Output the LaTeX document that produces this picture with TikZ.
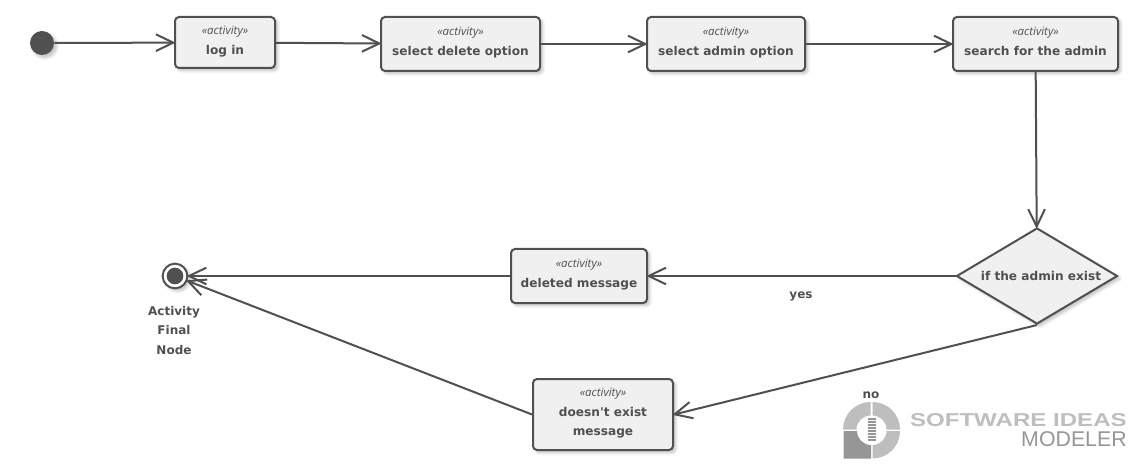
\documentclass[tikz,border=0pt]{standalone}
\usepackage{fontspec}
\usepackage{xcolor}
\setmainfont{DejaVu Sans}
\newfontfamily\plainfont{DejaVu Sans}
\newfontfamily\stereofont{Open Sans}
\newfontfamily\logofont{Liberation Sans}
\newfontfamily\logowide[FakeStretch=1.29]{Liberation Sans}
\usetikzlibrary{arrows.meta, shapes.geometric, shadows.blur}
\definecolor{umlline}{RGB}{80,80,80}
\definecolor{umlfill}{RGB}{240,240,240}
\definecolor{logolight}{RGB}{190,190,190}
\definecolor{logodark}{RGB}{150,150,150}
\newcommand{\activitytext}[1]{{\stereofont\mdseries\itshape\fontsize{8.6}{9}\selectfont «activity»}\\[4pt]#1\\[-7pt]\mbox{}}
\tikzset{
  softshadow/.style={blur shadow={shadow xshift=2pt, shadow yshift=-2pt, shadow blur steps=6, shadow opacity=25}},
  activitybox/.style={draw=umlline, line width=1.5pt, fill=umlfill, rounded corners=3pt, softshadow,
    align=center, inner sep=0pt, text=umlline, font=\bfseries\fontsize{9.1}{11}\selectfont},
  decisionbox/.style={draw=umlline, line width=1.5pt, fill=umlfill, diamond, aspect=1.68, inner sep=0pt, softshadow,
    minimum width=120.75pt, minimum height=72pt, text=umlline, font=\bfseries\fontsize{9.1}{11}\selectfont},
  startnode/.style={circle, fill=umlline, inner sep=0pt, minimum size=18pt},
  flowlabel/.style={text=umlline, align=center, inner sep=0pt, font=\bfseries\fontsize{9}{14.5}\selectfont},
  flow/.style={draw=umlline, line width=1.5pt, shorten >=-1.2pt, -{Straight Barb[length=13pt,width=12.5pt,line width=1.5pt]}}
}
\begin{document}
\begin{tikzpicture}[x=0.75pt, y=-0.75pt]
\useasboundingbox (0,0) rectangle (1138,470);

% top row
\node[startnode, softshadow] (start) at (42,43) {};
\node[activitybox, minimum width=75pt, minimum height=38.25pt] (login) at (225,42.5) {\activitytext{log in}};
\node[activitybox, minimum width=119.25pt, minimum height=40.5pt] (seldelete) at (460.5,44) {\activitytext{select delete option}};
\node[activitybox, minimum width=118.5pt, minimum height=40.5pt] (seladmin) at (726,44) {\activitytext{select admin option}};
\node[activitybox, minimum width=123.75pt, minimum height=40.5pt] (search) at (1035.5,44) {\activitytext{search for the admin}};

% lower part
\node[decisionbox] (exist) at (1037,276) {\hspace*{6pt}if the admin exist};
\node[activitybox, minimum width=102pt, minimum height=40.5pt] (deleted) at (579,276) {\activitytext{deleted message}};
\node[activitybox, minimum width=105pt, minimum height=53.25pt] (notexist) at (603,414.5) {\activitytext{doesn{\plainfont\bfseries '}t exist\\[3pt]message}};

% final node
\node[circle, draw=umlline, line width=1.5pt, fill=white, minimum size=18.5pt, inner sep=0pt, softshadow] (final) at (175,276) {};
\node[startnode, minimum size=12.5pt] (finaldot) at (final) {};
\node[flowlabel] (finallabel) at (174,330.5) {Activity\\Final\\Node};

% logo
\begin{scope}
\fill[logolight] (870.5,429.5) ++(-14,0) -- ++(-13.5,0) arc[start angle=180, end angle=270, radius=27.5] -- ++(0,13.5) arc[start angle=270, end angle=180, radius=14] -- cycle;
\fill[logolight] (872.5,429.5) ++(0,-14) -- ++(0,-13.5) arc[start angle=270, end angle=360, radius=27.5] -- ++(-13.5,0) arc[start angle=360, end angle=270, radius=14] -- cycle;
\fill[logolight] (872.5,431) ++(14,0) -- ++(13.5,0) arc[start angle=0, end angle=90, radius=27.5] -- ++(0,-13.5) arc[start angle=90, end angle=0, radius=14] -- cycle;
\fill[logodark] (843.5,431) -- (857,431) arc[start angle=180, end angle=90, radius=14] -- (871,458.5) -- (843.5,458.5) -- cycle;
\foreach \y in {418,421,...,439} {
  \fill[logodark] (868,\y) rectangle (876,\y+2);
}
\end{scope}
\node[anchor=east, inner sep=0pt, text=logolight, font=\logowide\bfseries\fontsize{14}{16}\selectfont] (logotop) at (1127,420) {SOFTWARE IDEAS};
\node[anchor=east, inner sep=0pt, text=logodark, font=\logofont\fontsize{16}{18}\selectfont] (logobottom) at (1127,439.5) {MODELER};

\node[flowlabel] (yeslabel) at (801,296.5) {yes};
\node[flowlabel] (nolabel) at (871,395) {no};

% connectors
\draw[flow] (start) -- (login);
\draw[flow] (login) -- (seldelete);
\draw[flow] (seldelete) -- (seladmin);
\draw[flow] (seladmin) -- (search);
\draw[flow] (search) -- (exist);
\draw[flow] (exist) -- (deleted);
\draw[flow] (deleted) -- (final);
\draw[flow] (exist.south) -- (notexist.east);
\draw[flow] (notexist.west) -- (final);
\end{tikzpicture}
\end{document}
